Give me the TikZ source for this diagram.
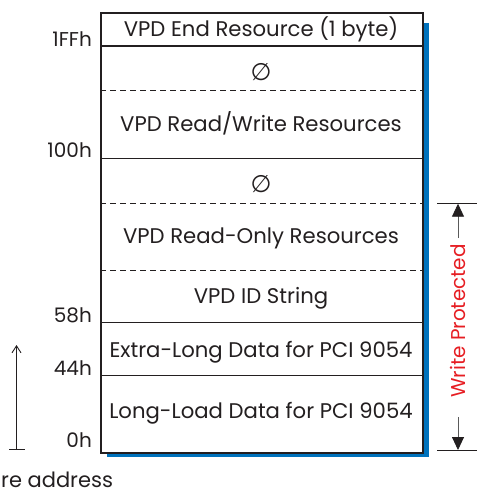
\documentclass[tikz,border=0pt]{standalone}
\usepackage{fontspec}
\setmainfont{Poppins}
\newfontfamily\symfont{DejaVu Sans}
\usetikzlibrary{arrows.meta}
\definecolor{shadowblue}{RGB}{0,114,188}
\definecolor{wpred}{RGB}{230,30,35}
\definecolor{ink}{RGB}{35,31,32}
\definecolor{arrowgrey}{RGB}{90,90,90}
\tikzset{
  rowtext/.style={font=\fontsize{21.2}{24}\selectfont, text=ink, anchor=base, inner sep=0pt},
  emptysym/.style={font=\symfont\fontsize{24}{26}\selectfont, text=ink, anchor=center, inner sep=0pt},
  addr/.style={font=\fontsize{20}{22}\selectfont, text=ink, anchor=base east, inner sep=0pt},
  solidsep/.style={draw=ink, line width=1.2pt},
  dashsep/.style={draw=ink, line width=1.2pt, dash pattern=on 6pt off 4pt},
  thinline/.style={draw=ink, line width=0.9pt},
  greyline/.style={draw=arrowgrey, line width=0.9pt}
}
\begin{document}
\begin{tikzpicture}[x=1pt,y=-1pt]
\useasboundingbox (0,0) rectangle (477,493);
% shadow and box
\fill[shadowblue] (107,23) rectangle (429,457);
\node[draw=ink, line width=2.2pt, fill=white, minimum width=322pt, minimum height=440pt, inner sep=0pt, anchor=north west] (box) at (100,12) {};
% separators
\coordinate (l1) at (100,46);   \coordinate (r1) at (422,46);
\coordinate (l2) at (100,90.7); \coordinate (r2) at (422,90.7);
\coordinate (l3) at (100,158.7);\coordinate (r3) at (422,158.7);
\coordinate (l4) at (100,203.7);\coordinate (r4) at (422,203.7);
\coordinate (l5) at (100,270.7);\coordinate (r5) at (422,270.7);
\coordinate (l6) at (100,322.7);\coordinate (r6) at (422,322.7);
\coordinate (l7) at (100,375.7);\coordinate (r7) at (422,375.7);
\draw[solidsep] (l1) -- (r1);
\draw[dashsep] (l2) -- (r2);
\draw[solidsep] (l3) -- (r3);
\draw[dashsep] (l4) -- (r4);
\draw[dashsep] (l5) -- (r5);
\draw[solidsep] (l6) -- (r6);
\draw[solidsep] (l7) -- (r7);
% row texts
\node[rowtext] (t1) at (261,36.7) {VPD End Resource (1 byte)};
\node[emptysym] (t2) at (261,72) {∅};
\node[rowtext] (t3) at (261,131.7) {VPD Read/Write Resources};
\node[emptysym] (t4) at (261,184) {∅};
\node[rowtext] (t5) at (261,243) {VPD Read-Only Resources};
\node[rowtext] (t6) at (261,303) {VPD ID String};
\node[rowtext] (t7) at (261,357) {Extra-Long Data for PCI 9054};
\node[rowtext] (t8) at (261,418) {Long-Load Data for PCI 9054};
% addresses
\node[addr] (a1) at (92,46) {1FFh};
\node[addr] (a2) at (92,157) {100h};
\node[addr] (a3) at (92,322) {58h};
\node[addr] (a4) at (92,375) {44h};
\node[addr] (a5) at (92,447) {0h};
% increasing address arrow
\coordinate (ab) at (16.5,449);
\coordinate (at) at (16.5,345);
\coordinate (abl) at (9,449);
\coordinate (abr) at (25,449);
\draw[thinline, -{Straight Barb[length=7pt,width=9pt]}] (ab) -- (at);
\draw[thinline] (abl) -- (abr);
\node[font=\fontsize{21}{24}\selectfont, text=ink, anchor=base west, inner sep=0pt] (lbl) at (1,487) {re address};
% write protected
\coordinate (wt) at (458,203.7);
\coordinate (wb) at (458,450);
\coordinate (wtl) at (437,203.7); \coordinate (wtr) at (477,203.7);
\coordinate (wbl) at (437,450); \coordinate (wbr) at (477,450);
\draw[thinline] (wtl) -- (wtr);
\draw[thinline] (wbl) -- (wbr);
\node[font=\fontsize{20}{22}\selectfont, text=wpred, rotate=90, inner sep=0pt] (wp) at (458,321) {Write Protected};
\coordinate (wpt) at (458,238);
\coordinate (wpb) at (458,417);
\draw[greyline, -{Triangle[length=13pt,width=12pt,color=ink]}] (wpt) -- (wt);
\draw[greyline, -{Triangle[length=13pt,width=12pt,color=ink]}] (wpb) -- (wb);
\end{tikzpicture}
\end{document}
